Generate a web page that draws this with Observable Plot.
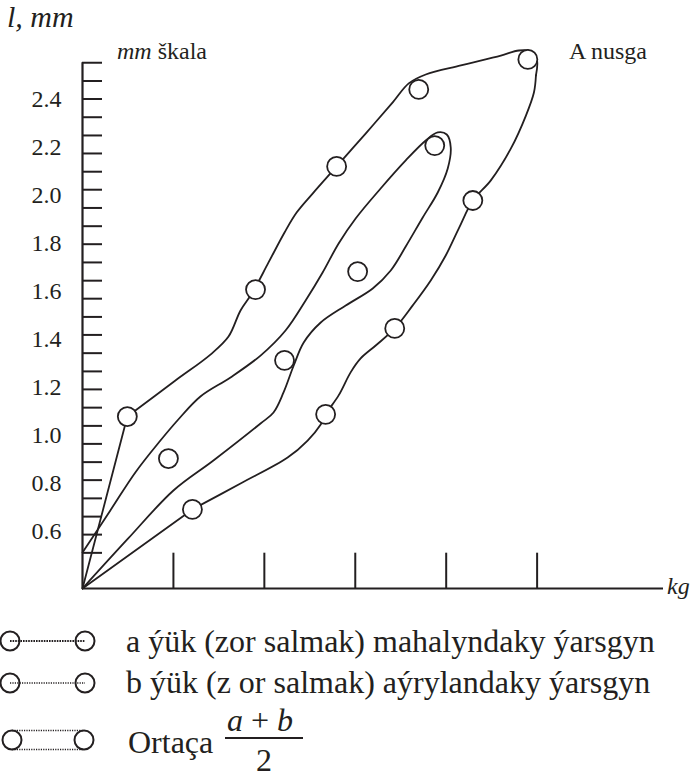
<!DOCTYPE html>
<html><head><meta charset="utf-8">
<script src="https://cdn.jsdelivr.net/npm/d3@7"></script>
<script src="https://cdn.jsdelivr.net/npm/@observablehq/plot@0.6"></script>
<style>
body{margin:0;background:#fff;font-family:"Liberation Serif","Times New Roman",Times,"DejaVu Serif",serif;color:#231f20;}
#wrap{position:relative;width:699px;height:782px;overflow:hidden;background:#fff}
.t{position:absolute;white-space:nowrap;line-height:1;}
i{font-style:italic}
</style></head><body><div id="wrap"><div id="chart"></div>
<div class="t" style="left:7px;top:2px;font-size:30px"><i>l, mm</i></div>
<div class="t" style="left:117px;top:39px;font-size:24px"><i>mm</i> škala</div>
<div class="t" style="left:569px;top:39px;font-size:24px">A nusga</div>
<div class="t" style="left:667px;top:574px;font-size:24px"><i>kg</i></div>
<svg style="position:absolute;left:0;top:610px" width="110" height="172">
 <g fill="none" stroke="#231f20">
  <line x1="10" y1="31" x2="85" y2="31" stroke-width="2" stroke-dasharray="1.6 1"/>
  <circle cx="10" cy="31" r="9.5" stroke-width="2"/><circle cx="85" cy="31" r="9.5" stroke-width="2"/>
  <line x1="10" y1="73" x2="85" y2="73" stroke-width="1.3" stroke-dasharray="1.2 1.2"/>
  <circle cx="10" cy="73" r="9.5" stroke-width="2"/><circle cx="85" cy="73" r="9.5" stroke-width="2"/>
  <line x1="12" y1="120.5" x2="84" y2="120.5" stroke-width="1.3" stroke-dasharray="1.2 1.2"/>
  <line x1="12" y1="139.5" x2="84" y2="139.5" stroke-width="1.3" stroke-dasharray="1.2 1.2"/>
  <circle cx="12" cy="130" r="9.5" stroke-width="2"/><circle cx="84" cy="130" r="9.5" stroke-width="2"/>
 </g>
</svg>
<div class="t" style="left:126px;top:625px;font-size:32px">a ýük (zor salmak) mahalyndaky ýarsgyn</div>
<div class="t" style="left:126px;top:666px;font-size:32px">b ýük (z or salmak) aýrylandaky ýarsgyn</div>
<div class="t" style="left:128px;top:726px;font-size:32px">Ortaça</div>
<div class="t" style="left:227px;top:704px;font-size:32px"><i>a</i> + <i>b</i></div>
<div style="position:absolute;left:225px;top:737px;width:78px;height:1.5px;background:#231f20"></div>
<div class="t" style="left:256px;top:744px;font-size:32px">2</div>
</div>
<script>
const ink = "#231f20";
const serif = "'Liberation Serif','Times New Roman',Times,'DejaVu Serif',serif";
// x ticks (kg) and y labels (mm)
const xTicks = [1, 2, 3, 4, 5];
const yLabels = [0.6, 0.8, 1.0, 1.2, 1.4, 1.6, 1.8, 2.0, 2.2, 2.4];
// the scale's small tick marks (mm)
const yMinorTicks = [0.511, 0.587, 0.662, 0.738, 0.814, 0.889, 0.965, 1.040, 1.116, 1.192, 1.267, 1.343, 1.419, 1.494,
  1.570, 1.645, 1.721, 1.797, 1.872, 1.948, 2.024, 2.099, 2.175, 2.250, 2.326, 2.402, 2.477, 2.553];
// measured points [kg, mm]
const measured = [[0.493,1.079],[0.945,0.904],[1.209,0.692],[1.903,1.608],[2.222,1.313],[2.674,1.088],
  [2.795,2.121],[3.026,1.683],[3.434,1.446],[3.698,2.442],[3.874,2.208],[4.293,1.979],[4.898,2.567]];
// loading branch (outer, upper)
const loadingStart = [[0,0.3625],[0.493,1.079]];
const loadingCurve = [[0.493,1.079],[1.022,1.229],[1.407,1.337],[1.606,1.412],[1.738,1.521],[1.870,1.596],
  [2.046,1.721],[2.222,1.846],[2.355,1.929],[2.531,2.008],[2.795,2.121],[3.114,2.258],[3.412,2.388],[3.588,2.467],
  [3.775,2.504],[4.161,2.542],[4.601,2.583],[4.800,2.604],[4.932,2.600],[4.998,2.563],[4.987,2.500]];
// unloading branch (outer, lower)
const unloadingCurve = [[4.987,2.500],[4.965,2.429],[4.877,2.333],[4.712,2.196],[4.491,2.063],[4.293,1.979],
  [4.139,1.863],[3.995,1.750],[3.830,1.646],[3.632,1.542],[3.434,1.446],[3.225,1.375],[3.059,1.321],[2.949,1.263],
  [2.817,1.167],[2.674,1.088],[2.620,1.046],[2.476,0.979],[2.256,0.908],[1.738,0.800],[1.209,0.692]];
const unloadingEnd = [[1.209,0.692],[0,0.3625]];
// average loop (inner)
const averageLoop = [[0,0.5125],[0.306,0.6875],[0.581,0.846],[0.857,0.979],[1.044,1.0625],[1.297,1.1625],
  [1.628,1.242],[1.958,1.333],[2.233,1.4375],[2.454,1.5625],[2.641,1.679],[2.817,1.800],[3.004,1.904],[3.279,2.029],
  [3.555,2.146],[3.775,2.229],[3.907,2.2625],[4.006,2.254],[4.050,2.200],[4.017,2.1125],[3.907,2.0125],[3.742,1.9083],
  [3.555,1.7875],[3.390,1.6875],[3.192,1.6125],[2.895,1.5417],[2.620,1.4708],[2.433,1.3875],[2.323,1.2917],
  [2.211,1.1792],[2.101,1.0958],[1.958,1.050],[1.440,0.8958],[1.000,0.7708],[0.5,0.57],[0,0.3625]];

const Y0 = 0.3625, XMAX = 6.39;
const chart = Plot.plot({
  width: 699, height: 610,
  marginLeft: 82, marginRight: 36, marginTop: 50, marginBottom: 22,
  x: {domain: [0, XMAX], axis: null},
  y: {domain: [Y0, 2.604]},
  style: {fontFamily: serif, fontSize: "24px", color: ink, background: "transparent", overflow: "visible"},
  marks: [
    Plot.ruleY(yMinorTicks, {x1: 0, x2: 0.22, stroke: ink, strokeWidth: 2}),
    Plot.ruleX(xTicks, {y1: Y0, y2: 0.5096, stroke: ink, strokeWidth: 2}),
    Plot.ruleX([0], {y1: Y0, y2: 2.553, stroke: ink, strokeWidth: 2.2}),
    Plot.ruleY([Y0], {x1: 0, x2: XMAX, stroke: ink, strokeWidth: 2.2}),
    Plot.axisY(yLabels, {tickSize: 0, tickPadding: 21, tickFormat: d => d.toFixed(1), fontSize: 24, label: null}),
    Plot.line(loadingStart, {stroke: ink, strokeWidth: 1.8}),
    Plot.line(loadingCurve, {stroke: ink, strokeWidth: 1.8, curve: "catmull-rom"}),
    Plot.line(unloadingCurve, {stroke: ink, strokeWidth: 1.8, curve: "catmull-rom"}),
    Plot.line(unloadingEnd, {stroke: ink, strokeWidth: 1.8}),
    Plot.line(averageLoop, {stroke: ink, strokeWidth: 1.8, curve: "catmull-rom"}),
    Plot.dot(measured, {r: 9.5, fill: "white", stroke: ink, strokeWidth: 1.8})
  ]
});
document.getElementById("chart").appendChild(chart);
</script></body></html>
